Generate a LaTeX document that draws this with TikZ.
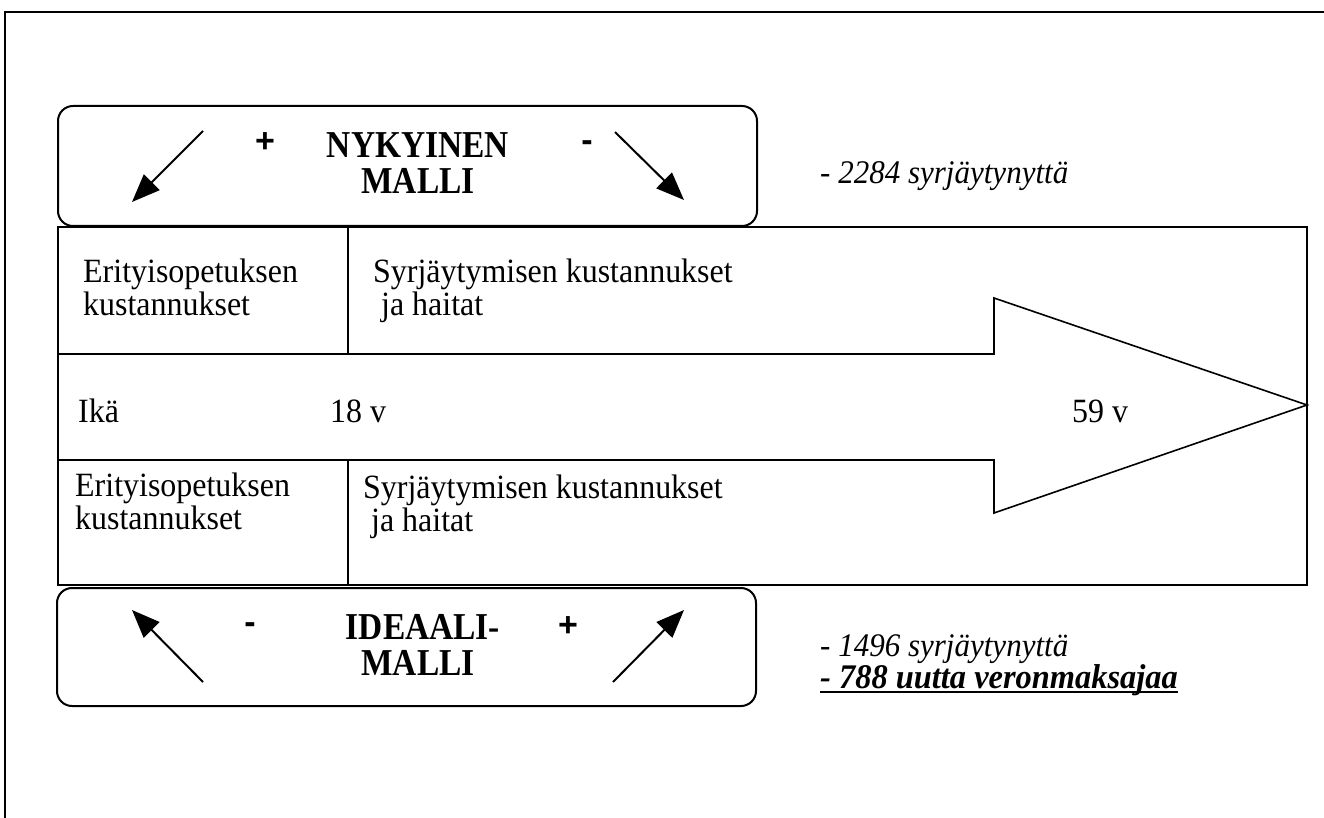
\documentclass[tikz,border=0pt]{standalone}
\usepackage{fontspec}
\setmainfont{Liberation Serif}
\newfontfamily\bodyfont{Liberation Serif}[FakeStretch=0.94]
\newfontfamily\titlefont{Liberation Serif}[FakeStretch=0.88]
\newfontfamily\signfont{Liberation Sans}
\usetikzlibrary{arrows.meta}
\begin{document}
\begin{tikzpicture}[x=1pt,y=-1pt,
  txt/.style={font=\fontsize{34}{34}\selectfont\bodyfont, inner sep=0pt, anchor=base west},
  ttl/.style={font=\fontsize{38}{38}\selectfont\titlefont\bfseries, inner sep=0pt, anchor=base},
  sgn/.style={font=\fontsize{34}{34}\selectfont\signfont\bfseries, inner sep=0pt, anchor=center},
  note/.style={font=\fontsize{33}{33}\selectfont\bodyfont\itshape, inner sep=0pt, anchor=base west},
  rbox/.style={draw, line width=2pt, rounded corners=15pt},
  gridline/.style={line width=1.6pt},
  parr/.style={line width=2pt, -{Triangle[length=28pt,width=22pt]}}]
\useasboundingbox (0,0) rectangle (1324,818);
% frame
\draw[line width=2pt] (1324,12) -- (5,12) -- (5,818);
% model boxes
\draw[rbox] (58,106) rectangle (757,226);
\draw[rbox] (57,588) rectangle (756,706);
% table
\draw[gridline] (58,227) rectangle (1307,585);
\draw[gridline] (58,354) -- (994,354) -- (994,298) -- (1307,405) -- (994,513) -- (994,460) -- (58,460);
\draw[gridline] (348,227) -- (348,354);
\draw[gridline] (348,460) -- (348,585);
% top box content
\node[sgn] (p1) at (265,143) {+};
\node[ttl] (t1) at (418,158) {NYKYINEN};
\node[ttl] (t2) at (418,194) {MALLI};
\node[sgn] (m1) at (587,146) {-};
\coordinate (a1s) at (203,131); \coordinate (a1e) at (132,202);
\coordinate (a2s) at (615,132); \coordinate (a2e) at (684,200);
\draw[parr] (a1s) -- (a1e);
\draw[parr] (a2s) -- (a2e);
% bottom box content
\node[sgn] (m2) at (250,628) {-};
\node[ttl] (t3) at (423,639) {IDEAALI-};
\node[ttl] (t4) at (418,675) {MALLI};
\node[sgn] (p2) at (568,627) {+};
\coordinate (b1s) at (203,682); \coordinate (b1e) at (132,610);
\coordinate (b2s) at (613,682); \coordinate (b2e) at (684,610);
\draw[parr] (b1s) -- (b1e);
\draw[parr] (b2s) -- (b2e);
% table texts
\node[txt] (e1) at (83,282) {Erityisopetuksen};
\node[txt] (e2) at (83,315) {kustannukset};
\node[txt] (s1) at (373,282) {Syrjäytymisen kustannukset};
\node[txt] (s2) at (381,315) {ja haitat};
\node[txt] (ika) at (78,422) {Ikä};
\node[txt] (v18) at (330,422) {18 v};
\node[txt] (v59) at (1072,422) {59 v};
\node[txt] (e3) at (75,496) {Erityisopetuksen};
\node[txt] (e4) at (75,529) {kustannukset};
\node[txt] (s3) at (363,498) {Syrjäytymisen kustannukset};
\node[txt] (s4) at (371,531) {ja haitat};
% notes
\node[note] (n1) at (820,184) {- 2284 syrjäytynyttä};
\node[note] (n2) at (820,656) {- 1496 syrjäytynyttä};
\node[note, font=\fontsize{34.5}{34.5}\selectfont\bodyfont\bfseries\itshape] (n3) at (820,688) {- 788 uutta veronmaksajaa};
\draw[line width=2pt] ([yshift=-4pt]n3.base west) -- ([yshift=-4pt]n3.base east);
\end{tikzpicture}
\end{document}
